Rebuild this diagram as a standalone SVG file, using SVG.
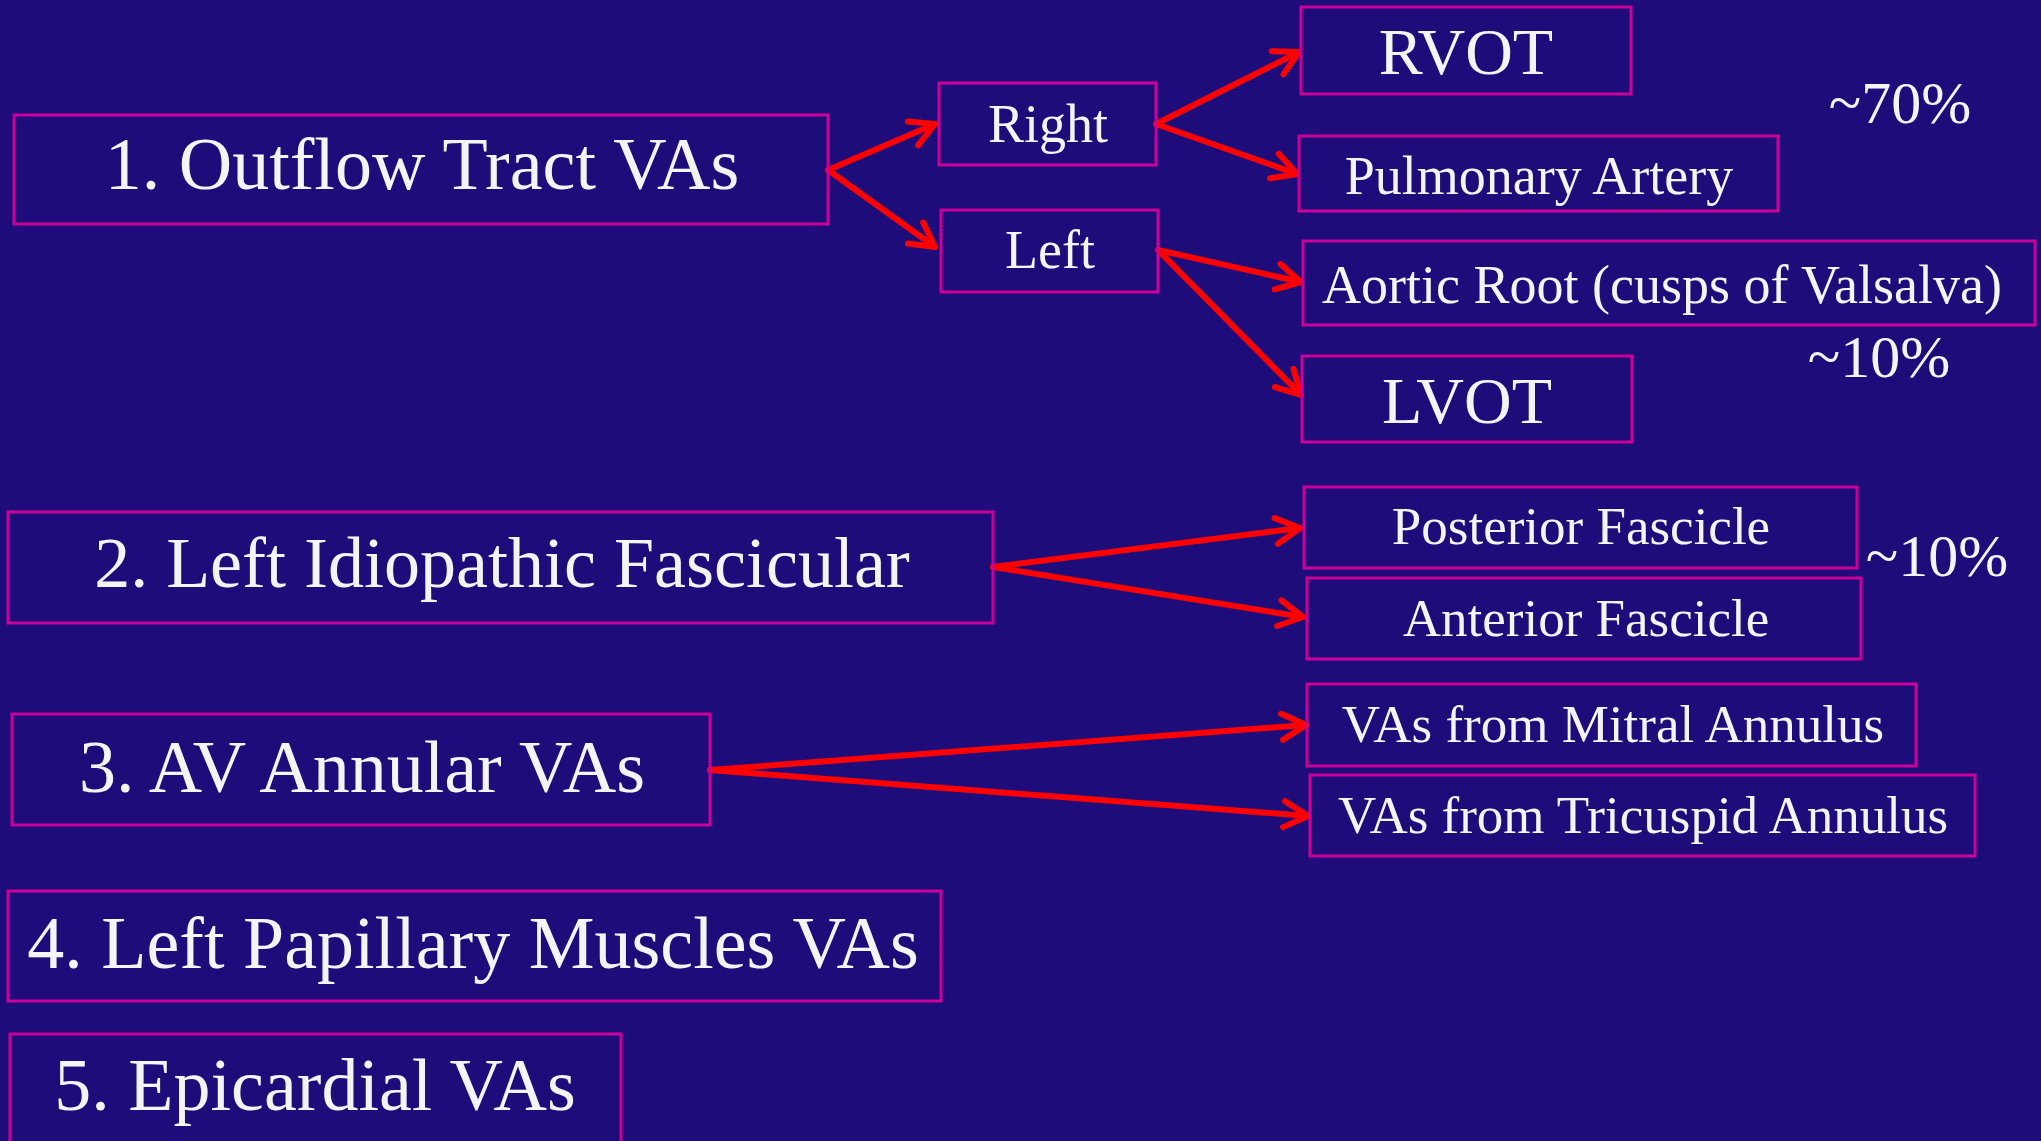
<svg xmlns="http://www.w3.org/2000/svg" width="2041" height="1141" viewBox="0 0 2041 1141">
  <style>
    .box { fill: none; stroke: #CC0099; stroke-width: 3; }
    .t { font-family: "Liberation Serif", "Times New Roman", serif; fill: #F4F4F4; text-anchor: middle; }
    .big { font-size: 74px; }
    .mid { font-size: 54px; }
    .sub { font-size: 53px; }
    .cap { font-size: 66px; }
    .pct { font-size: 60px; }
    .link { fill: none; stroke: #FF0000; stroke-width: 6; stroke-linecap: round; marker-end: url(#head); }
  </style>
  <defs>
    <marker id="head" markerUnits="userSpaceOnUse" markerWidth="40" markerHeight="40" viewBox="-30 -20 40 40" refX="0" refY="0" orient="auto">
      <path d="M-24,-13 L0,0 L-24,13" fill="none" stroke="#FF0000" stroke-width="6" stroke-linecap="round" stroke-linejoin="round"/>
    </marker>
  </defs>

  <rect width="2041" height="1141" fill="#1D0C7A"/>

  <!-- connectors -->
  <g id="connectors">
    <path class="link" d="M828,170 L935,124"/>
    <path class="link" d="M828,170 L935,247"/>
    <path class="link" d="M1156,124 L1299,52"/>
    <path class="link" d="M1156,124 L1297,174"/>
    <path class="link" d="M1158,250 L1301,282"/>
    <path class="link" d="M1158,250 L1301,395"/>
    <path class="link" d="M993,567 L1300,528"/>
    <path class="link" d="M993,567 L1303,617"/>
    <path class="link" d="M710,770 L1306,725"/>
    <path class="link" d="M710,770 L1308,816"/>
  </g>

  <!-- 1. outflow tract -->
  <g id="outflow">
    <rect class="box" x="14" y="115" width="814" height="109"/>
    <text class="t big" x="422" y="189">1. Outflow Tract VAs</text>
  </g>
  <g id="right">
    <rect class="box" x="939" y="83" width="217" height="82"/>
    <text class="t mid" x="1048" y="142">Right</text>
  </g>
  <g id="left">
    <rect class="box" x="941" y="210" width="217" height="82"/>
    <text class="t mid" x="1050" y="268">Left</text>
  </g>
  <g id="rvot">
    <rect class="box" x="1301" y="7" width="330" height="87"/>
    <text class="t cap" x="1466" y="74">RVOT</text>
  </g>
  <g id="pulmonary-artery">
    <rect class="box" x="1299" y="136" width="479" height="75"/>
    <text class="t mid" x="1539" y="194">Pulmonary Artery</text>
  </g>
  <g id="aortic-root">
    <rect class="box" x="1303" y="241" width="732" height="84"/>
    <text class="t mid" x="1662" y="303">Aortic Root (cusps of Valsalva)</text>
  </g>
  <g id="lvot">
    <rect class="box" x="1302" y="356" width="330" height="86"/>
    <text class="t cap" x="1467" y="423">LVOT</text>
  </g>
  <g id="pct-70">
    <text class="t pct" x="1900" y="123">~70%</text>
  </g>
  <g id="pct-10-outflow">
    <text class="t pct" x="1879" y="377">~10%</text>
  </g>

  <!-- 2. fascicular -->
  <g id="fascicular">
    <rect class="box" x="8" y="512" width="985" height="111"/>
    <text class="t big" x="502" y="587" style="font-size:72px">2. Left Idiopathic Fascicular</text>
  </g>
  <g id="posterior">
    <rect class="box" x="1304" y="487" width="553" height="81"/>
    <text class="t sub" x="1581" y="544">Posterior Fascicle</text>
  </g>
  <g id="anterior">
    <rect class="box" x="1307" y="578" width="554" height="81"/>
    <text class="t sub" x="1586" y="636">Anterior Fascicle</text>
  </g>
  <g id="pct-10-fascicular">
    <text class="t pct" x="1937" y="576">~10%</text>
  </g>

  <!-- 3. annular -->
  <g id="annular">
    <rect class="box" x="12" y="714" width="698" height="111"/>
    <text class="t big" x="362" y="792">3. AV Annular VAs</text>
  </g>
  <g id="mitral">
    <rect class="box" x="1307" y="684" width="609" height="82"/>
    <text class="t sub" x="1613" y="742">VAs from Mitral Annulus</text>
  </g>
  <g id="tricuspid">
    <rect class="box" x="1310" y="775" width="665" height="81"/>
    <text class="t sub" x="1643" y="833">VAs from Tricuspid Annulus</text>
  </g>

  <!-- 4. papillary -->
  <g id="papillary">
    <rect class="box" x="8" y="891" width="933" height="110"/>
    <text class="t big" x="473" y="968">4. Left Papillary Muscles VAs</text>
  </g>

  <!-- 5. epicardial -->
  <g id="epicardial">
    <rect class="box" x="10" y="1034" width="611" height="120"/>
    <text class="t big" x="315" y="1110">5. Epicardial VAs</text>
  </g>
</svg>
